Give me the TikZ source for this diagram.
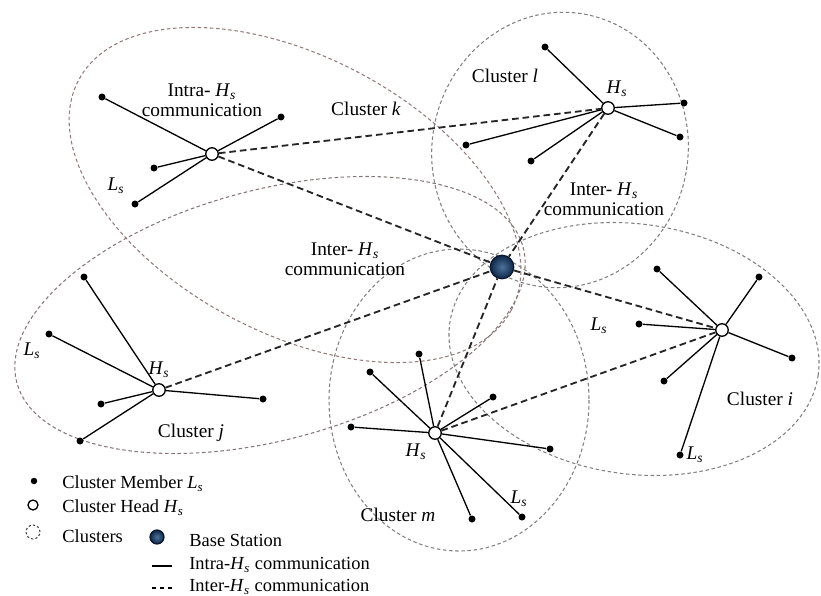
\documentclass[tikz,border=0pt]{standalone}
\usepackage{fontspec}
\setmainfont{Liberation Serif}

\newcommand{\Hs}{\textit{H}\textsubscript{\textit{s}}}
\newcommand{\Ls}{\textit{L}\textsubscript{\textit{s}}}

\begin{document}
\begin{tikzpicture}[x=0.02cm, y=-0.02cm,
    member/.style={circle, fill=black, inner sep=0pt, minimum size=0.14cm},
    head/.style={circle, draw=black, fill=white, line width=0.75pt, inner sep=0pt, minimum size=0.25cm},
    station/.style={circle, draw={rgb,255:red,10;green,22;blue,45}, line width=0.7pt,
        inner color={rgb,255:red,75;green,115;blue,155}, outer color={rgb,255:red,15;green,38;blue,72},
        inner sep=0pt, minimum size=0.47cm},
    cluster/.style={draw=black!50, dash pattern=on 2pt off 1.5pt, line width=0.6pt},
    intra/.style={line width=0.75pt},
    inter/.style={line width=1.05pt, draw=black!85, dash pattern=on 3.8pt off 2.2pt},
    lbl/.style={font=\fontsize{11}{11.5}\selectfont, align=center, inner sep=1pt},
    leg/.style={font=\fontsize{10.5}{12}\selectfont, anchor=west, inner sep=0pt}]
    \useasboundingbox (0,0) rectangle (821,595);

    % clusters
    \draw[cluster, draw={rgb,255:red,150;green,122;blue,122}, rotate around={-28:(295,195)}] (295,195) ellipse [x radius=245, y radius=138];
    \draw[cluster, rotate around={-10:(560,150)}] (560,150) ellipse [x radius=128, y radius=138];
    \draw[cluster, draw={rgb,255:red,135;green,118;blue,118}, rotate around={15:(270,315)}] (270,315) ellipse [x radius=262, y radius=125];
    \draw[cluster] (459,400) ellipse [x radius=130, y radius=151];
    \draw[cluster, rotate around={-8:(634,349)}] (634,349) ellipse [x radius=186, y radius=125];

    % heads and base station
    \node[station] (BS) at (502,267) {};
    \node[head] (Hk) at (212,154) {};
    \node[head] (Hl) at (608,108) {};
    \node[head] (Hj) at (159,390) {};
    \node[head] (Hm) at (435,433) {};
    \node[head] (Hi) at (722,330) {};

    % cluster members
    \foreach \n/\x/\y in {k1/102/97, k2/281/117, k3/154/168, k4/135/204,
        l1/545/47, l2/684/103, l3/680/137, l4/531/161, l5/466/145,
        j1/84/277, j2/49/334, j3/101/404, j4/80/441, j5/263/399,
        m1/419/354, m2/370/372, m3/351/427, m4/493/397, m5/550/449, m6/472/519, m7/522/517,
        i1/657/269, i2/759/277, i3/639/324, i4/792/358, i5/664/381, i6/680/455}
        \node[member] (\n) at (\x,\y) {};

    % intra links
    \foreach \h/\m in {Hk/k1, Hk/k2, Hk/k3, Hk/k4,
        Hl/l1, Hl/l2, Hl/l3, Hl/l4, Hl/l5,
        Hj/j1, Hj/j2, Hj/j3, Hj/j4, Hj/j5,
        Hm/m1, Hm/m2, Hm/m3, Hm/m4, Hm/m5, Hm/m6, Hm/m7,
        Hi/i1, Hi/i2, Hi/i3, Hi/i4, Hi/i5, Hi/i6}
        \draw[intra] (\h) -- (\m);

    % inter links
    \draw[inter] (Hk) -- (Hl);
    \draw[inter] (Hk) -- (BS);
    \draw[inter] (Hl) -- (BS);
    \draw[inter] (Hj) -- (BS);
    \draw[inter] (Hm) -- (BS);
    \draw[inter] (BS) -- (Hi);
    \draw[inter] (Hm) -- (Hi);

    % labels
    \node[lbl] (intraK) at (202,100) {Intra- \Hs\\communication};
    \node[lbl] (nameK) at (366,109) {Cluster \textit{k}};
    \node[lbl] (lsK) at (116,186) {\Ls};
    \node[lbl] (nameL) at (505,76) {Cluster \textit{l}};
    \node[lbl] (hsL) at (617,89) {\Hs};
    \node[lbl] (interL) at (604,199) {Inter- \Hs\\communication};
    \node[lbl] (interK) at (345,259) {Inter- \Hs\\communication};
    \node[lbl] (lsJ) at (32,351) {\Ls};
    \node[lbl] (hsJ) at (159,370) {\Hs};
    \node[lbl] (nameJ) at (191,433) {Cluster \textit{j}};
    \node[lbl] (hsM) at (416,452) {\Hs};
    \node[lbl] (lsM) at (519,499) {\Ls};
    \node[lbl] (nameM) at (398,515) {Cluster \textit{m}};
    \node[lbl] (lsI) at (599,326) {\Ls};
    \node[lbl] (lsI2) at (695,455) {\Ls};
    \node[lbl] (nameI) at (760,399) {Cluster \textit{i}};

    % legend
    \node[member, minimum size=0.13cm] (legM) at (34,481) {};
    \node[leg] (legMt) at (62,484) {Cluster Member \Ls};
    \node[head, minimum size=0.2cm] (legH) at (33,505) {};
    \node[leg] (legHt) at (62,508) {Cluster Head \Hs};
    \node[circle, draw=black!75, dash pattern=on 1.3pt off 1.2pt, line width=0.6pt, inner sep=0pt, minimum size=0.28cm] (legC) at (33,532) {};
    \node[leg] (legCt) at (62,536) {Clusters};
    \node[station, minimum size=0.28cm] (legB) at (157,537) {};
    \node[leg] (legBt) at (189,540) {Base Station};
    \coordinate (intraA) at (152,566);
    \coordinate (intraB) at (172,566);
    \draw[intra] (intraA) -- (intraB);
    \node[leg] (legIt) at (189,565) {Intra-\Hs{} communication};
    \coordinate (interA) at (152,588);
    \coordinate (interB) at (172,588);
    \draw[line width=0.9pt, dash pattern=on 2.5pt off 2pt] (interA) -- (interB);
    \node[leg] (legEt) at (189,587) {Inter-\Hs{} communication};
\end{tikzpicture}
\end{document}
